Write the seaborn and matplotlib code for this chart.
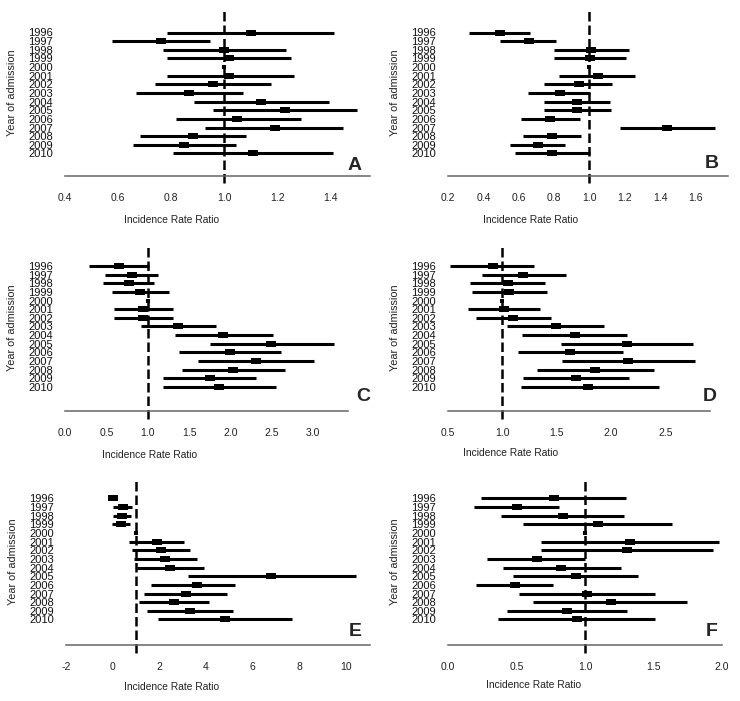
import numpy as np
import pandas as pd
import matplotlib
matplotlib.use("Agg")
import matplotlib.pyplot as plt
import seaborn as sns

years = [str(y) for y in range(1996, 2011)]

# incidence rate ratios (estimate, lower, upper) per panel
est_a = [1.10, 0.763, 1.00, 1.02, 1.0, 1.02, 0.958, 0.869, 1.14, 1.231, 1.05, 1.19, 0.883, 0.848, 1.108]
lo_a = [0.785, 0.577, 0.768, 0.785, 1.0, 0.785, 0.741, 0.669, 0.888, 0.958, 0.819, 0.926, 0.684, 0.657, 0.806]
hi_a = [1.414, 0.948, 1.235, 1.254, 1.0, 1.263, 1.177, 1.070, 1.395, 1.502, 1.29, 1.449, 1.083, 1.043, 1.411]

est_b = [0.492, 0.657, 1.011, 1.006, 1.0, 1.047, 0.94, 0.832, 0.93, 0.93, 0.779, 1.44, 0.789, 0.709, 0.789]
lo_b = [0.321, 0.496, 0.798, 0.798, 1.0, 0.830, 0.742, 0.651, 0.742, 0.742, 0.615, 1.172, 0.623, 0.553, 0.581]
hi_b = [0.662, 0.811, 1.223, 1.209, 1.0, 1.257, 1.128, 1.002, 1.119, 1.123, 0.945, 1.709, 0.955, 0.864, 1.006]

est_c = [0.653, 0.806, 0.77, 0.907, 1.0, 0.948, 0.94, 1.371, 1.915, 2.49, 1.988, 2.31, 2.036, 1.754, 1.863]
lo_c = [0.294, 0.484, 0.456, 0.565, 1.0, 0.597, 0.597, 0.915, 1.331, 1.754, 1.379, 1.613, 1.419, 1.19, 1.181]
hi_c = [1.016, 1.125, 1.077, 1.258, 1.0, 1.302, 1.302, 1.827, 2.512, 3.246, 2.609, 3.004, 2.661, 2.31, 2.552]

est_d = [0.911, 1.193, 1.049, 1.064, 1.0, 1.015, 1.101, 1.491, 1.669, 2.144, 1.623, 2.16, 1.853, 1.678, 1.791]
lo_d = [0.518, 0.81, 0.702, 0.718, 1.0, 0.681, 0.758, 1.046, 1.184, 1.537, 1.147, 1.546, 1.316, 1.193, 1.169]
hi_d = [1.291, 1.586, 1.393, 1.408, 1.0, 1.347, 1.448, 1.939, 2.15, 2.752, 2.107, 2.773, 2.396, 2.169, 2.442]

est_e = [0.02, 0.43, 0.39, 0.36, 1.0, 1.886, 2.06, 2.27, 2.46, 6.81, 3.63, 3.13, 2.63, 3.31, 4.81]
lo_e = [0.0, 0.0, 0.0, -0.03, 1.0, 0.70, 0.843, 0.93, 1.03, 3.24, 1.63, 1.34, 1.13, 1.46, 1.96]
hi_e = [0.05, 0.843, 0.786, 0.743, 1.0, 3.07, 3.31, 3.63, 3.91, 10.46, 5.27, 4.89, 4.13, 5.17, 7.71]

est_f = [0.774, 0.502, 0.842, 1.092, 1.0, 1.328, 1.303, 0.648, 0.825, 0.932, 0.49, 1.012, 1.187, 0.867, 0.939]
lo_f = [0.243, 0.192, 0.388, 0.544, 1.0, 0.677, 0.677, 0.284, 0.398, 0.473, 0.206, 0.519, 0.619, 0.434, 0.364]
hi_f = [1.296, 0.813, 1.286, 1.638, 1.0, 1.976, 1.934, 1.0, 1.26, 1.388, 0.769, 1.51, 1.745, 1.303, 1.51]

letters = ["A", "B", "C", "D", "E", "F"]
xticks = [
    [0.4, 0.6, 0.8, 1.0, 1.2, 1.4],
    [0.2, 0.4, 0.6, 0.8, 1.0, 1.2, 1.4, 1.6],
    [0.0, 0.5, 1.0, 1.5, 2.0, 2.5, 3.0],
    [0.5, 1.0, 1.5, 2.0, 2.5],
    [-2, 0, 2, 4, 6, 8, 10],
    [0.0, 0.5, 1.0, 1.5, 2.0],
]
tick_fmt = ["{:.1f}", "{:.1f}", "{:.1f}", "{:.1f}", "{:.0f}", "{:.1f}"]
panels = [(est_a, lo_a, hi_a), (est_b, lo_b, hi_b), (est_c, lo_c, hi_c),
          (est_d, lo_d, hi_d), (est_e, lo_e, hi_e), (est_f, lo_f, hi_f)]

# layout in pixels: x of left/right end of axis, top, axis line, first row; x limits
layout = [
    (65, 370, 10, 176, 32.5, (0.4, 1.55)),
    (448, 728, 10, 176, 32.5, (0.2, 1.785)),
    (65, 348, 244, 411, 266, (0.0, 3.42)),
    (448, 710, 244, 411, 266, (0.5, 2.91)),
    (66, 370, 478, 645, 498.5, (-2, 11.05)),
    (448, 722, 478, 645, 498.5, (0.0, 2.0)),
]
xlab_pos = [(172, 220), (531, 220), (150, 455), (511, 453), (172, 687), (534, 685)]
letter_pos = [(355, 165), (712, 163), (363, 397), (710, 397), (355, 631), (712, 631)]

sns.set_style("white")
plt.rcParams["font.family"] = ["Liberation Sans", "DejaVu Sans"]

W, H = 740, 701
row_px = 8.64
fig = plt.figure(figsize=(W / 100, H / 100), dpi=100)

box = [(-1, -0.5), (1, -0.5), (1, 0.5), (-1, 0.5)]

for i, (est, lo, hi) in enumerate(panels):
    x0, x1, yt, yb, yr, xl = layout[i]
    ax = fig.add_axes([x0 / W, 1 - yb / H, (x1 - x0) / W, (yb - yt) / H])
    df = pd.DataFrame({"year": years, "est": est, "lo": lo, "hi": hi})
    df["row"] = np.arange(len(df))
    ref = df["year"] == "2000"

    ax.hlines(df["row"], df["lo"], df["hi"], color="black", lw=2.2, zorder=2)
    sns.scatterplot(data=df[~ref], x="est", y="row", marker=box, s=55,
                    color="black", linewidth=0, ax=ax, legend=False, zorder=3)
    sns.scatterplot(data=df[ref], x="est", y="row", marker="s", s=6,
                    color="black", linewidth=0, ax=ax, legend=False, zorder=3)
    ax.axvline(1.0, ymin=-0.045, ymax=1, color="black", lw=1.8,
               ls=(0, (3.8, 1.6)), clip_on=False, zorder=1)

    ax.set_xlim(*xl)
    ax.set_ylim((yb - yr) / row_px, -(yr - yt) / row_px)
    ax.set_yticks(df["row"])
    ax.set_yticklabels(df["year"], fontsize=8, color="#111111")
    ax.set_xticks(xticks[i])
    ax.set_xticklabels([tick_fmt[i].format(t) for t in xticks[i]], fontsize=7.5, color="#222222")
    ax.tick_params(axis="y", length=0, pad=8.5)
    ax.tick_params(axis="x", length=5, width=1, color="#555555", pad=7.5)

    sns.despine(ax=ax, left=True)
    ax.spines["bottom"].set_color("#666666")
    ax.spines["bottom"].set_linewidth(1.1)

    ax.set_ylabel("Year of admission", fontsize=7.8, color="#222222")
    ax.yaxis.set_label_coords(-48 / (x1 - x0), 0.5)
    ax.set_xlabel("Incidence Rate Ratio", fontsize=7.4, color="#222222")
    lx, ly = xlab_pos[i]
    ax.xaxis.set_label_coords(lx / W, 1 - ly / H, transform=fig.transFigure)
    ax.xaxis.label.set_va("center")

    px, py = letter_pos[i]
    fig.text(px / W, 1 - py / H, letters[i], fontsize=14, fontweight="bold",
             ha="center", va="center")

fig.savefig("out.png", dpi=100)
